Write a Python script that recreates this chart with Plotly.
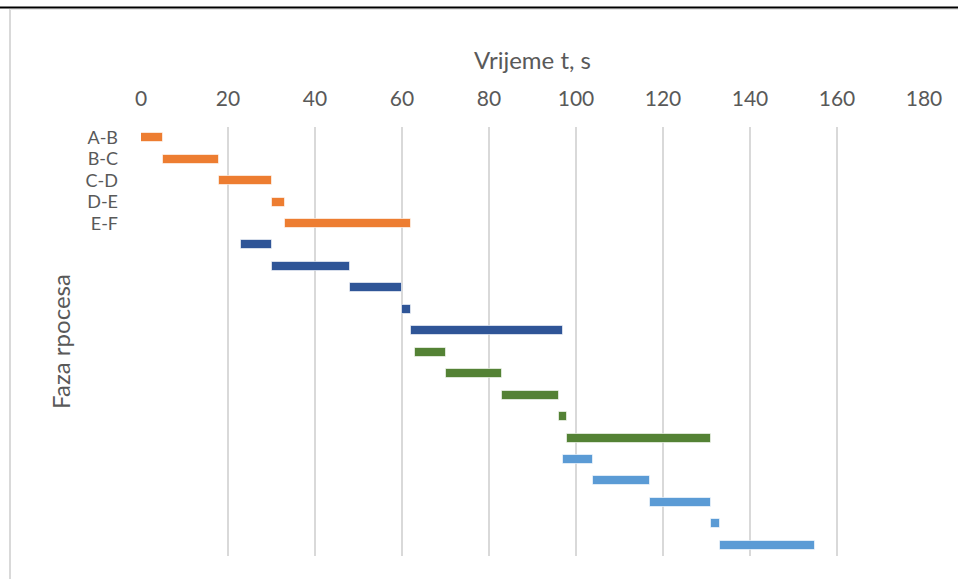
import plotly.graph_objects as go

row_labels = ["A-B", "B-C", "C-D", "D-E", "E-F"] + [""] * 15
starts = [0, 5, 18, 30, 33,
          23, 30, 48, 60, 62,
          63, 70, 83, 96, 98,
          97, 104, 117, 131, 133]
ends = [5, 18, 30, 33, 62,
        30, 48, 60, 62, 97,
        70, 83, 96, 98, 131,
        104, 117, 131, 133, 155]
groups = [0] * 5 + [1] * 5 + [2] * 5 + [3] * 5
group_colors = ["#ED7D31", "#2F5597", "#548235", "#5B9BD5"]
x_ticks = [0, 20, 40, 60, 80, 100, 120, 140, 160, 180]

FONT = "Lato, 'Open Sans', sans-serif"
TXT = "#595959"

fig = go.Figure()
for g, col in enumerate(group_colors):
    idx = [i for i in range(len(starts)) if groups[i] == g]
    fig.add_trace(go.Bar(
        y=idx,
        x=[ends[i] - starts[i] for i in idx],
        base=[starts[i] for i in idx],
        orientation="h",
        marker=dict(color=col, line=dict(color="rgba(255,255,255,0.6)", width=1)),
        width=0.42,
        showlegend=False,
        hoverinfo="skip",
    ))

fig.update_layout(
    width=958, height=579,
    margin=dict(l=141, r=34, t=127, b=23),
    paper_bgcolor="white", plot_bgcolor="white",
    font=dict(family=FONT, color=TXT, size=20),
    bargap=0,
    xaxis=dict(
        side="top", range=[0, 180], tickvals=x_ticks, ticktext=[str(v) for v in x_ticks],
        showgrid=True, gridcolor="#D9D9D9", gridwidth=2, zeroline=False,
        showline=False, ticks="", ticklabelstandoff=16,
        tickfont=dict(size=21, color=TXT, family=FONT),
        title=dict(text="Vrijeme t, s", font=dict(size=24, color=TXT, family=FONT), standoff=8),
    ),
    yaxis=dict(
        range=[19.5, -0.5], tickvals=list(range(20)), ticktext=row_labels,
        showgrid=False, zeroline=False, showline=False, ticks="",
        ticklabelstandoff=22,
        tickfont=dict(size=18, color=TXT, family=FONT),
        title=dict(text="Faza rpocesa", font=dict(size=24, color=TXT, family=FONT), standoff=8),
    ),
    shapes=[
        dict(type="line", xref="paper", yref="paper",
             x0=(0 - 141) / 783, x1=(958 - 141) / 783,
             y0=(556 - 7.5) / 429, y1=(556 - 7.5) / 429,
             line=dict(color="black", width=2)),
        dict(type="line", xref="paper", yref="paper",
             x0=(10 - 141) / 783, x1=(10 - 141) / 783,
             y0=(556 - 9) / 429, y1=(556 - 580) / 429,
             line=dict(color="#D9D9D9", width=2)),
        dict(type="line", xref="paper", yref="paper",
             x0=(10 - 141) / 783, x1=(958 - 141) / 783,
             y0=(556 - 9.5) / 429, y1=(556 - 9.5) / 429,
             line=dict(color="#E6E6E6", width=1)),
    ],
)

fig.write_html("out.html", config={"displayModeBar": False},
               post_script="document.body.style.margin='0';document.body.style.overflow='hidden';")
